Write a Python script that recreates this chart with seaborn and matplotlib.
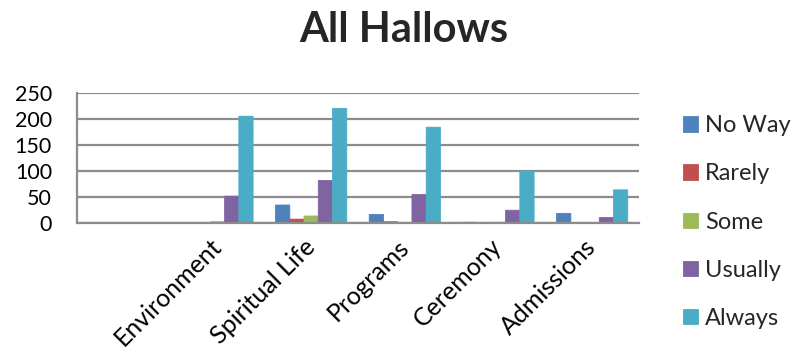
import matplotlib
matplotlib.use("Agg")
import matplotlib.pyplot as plt
import seaborn as sns
import pandas as pd
from matplotlib.ticker import FixedLocator

# Survey responses per area (first slot is an unlabeled, empty category)
categories = ["", "Environment", "Spiritual Life", "Programs", "Ceremony", "Admissions"]
responses = ["No Way", "Rarely", "Some", "Usually", "Always"]
no_way = [1, 35, 17, 2, 19]
rarely = [0, 8, 3, 0, 0]
some = [3, 14, 1, 2, 1]
usually = [52, 82, 55, 25, 11]
always = [205, 220, 184, 100, 64]
colors = ["#4F81BD", "#C0504D", "#9BBB59", "#8064A2", "#4BACC6"]

rows = []
for resp, vals in zip(responses, [no_way, rarely, some, usually, always]):
    for cat, v in zip(categories[1:], vals):
        rows.append({"Area": cat, "Response": resp, "Count": v})
df = pd.DataFrame(rows)

sns.set_theme(style="white")
plt.rcParams["font.family"] = ["Lato", "DejaVu Sans"]

fig = plt.figure(figsize=(7.91, 3.55), dpi=100)
ax = fig.add_axes([77 / 791, 1 - 223.3 / 355, (639 - 77) / 791, (223.3 - 92.7) / 355])

sns.barplot(data=df, x="Area", y="Count", hue="Response", order=categories,
            hue_order=responses, palette=colors, width=0.76, saturation=1,
            linewidth=0, ax=ax, legend=True)

# Bars in a group sit flush against each other
for p in ax.patches:
    p.set_snap(False)
    p.set_edgecolor(p.get_facecolor())
    p.set_linewidth(0.6)

ax.set_xlim(-0.5, len(categories) - 0.5)
ax.set_ylim(0, 250)
ax.set_yticks([0, 50, 100, 150, 200, 250])
ax.yaxis.grid(True, color="#8c8c8c", linewidth=1.6)
ax.set_axisbelow(True)
for side in ["top", "right"]:
    ax.spines[side].set_visible(False)
for side in ["left", "bottom"]:
    ax.spines[side].set_color("#8c8c8c")
    ax.spines[side].set_linewidth(1.6)

ax.set_xlabel("")
ax.set_ylabel("")
ax.tick_params(axis="y", labelsize=15.5, length=0, pad=18, labelcolor="black")
ax.tick_params(axis="x", which="major", length=0, pad=14, labelsize=18, labelcolor="black")
ax.xaxis.set_minor_locator(FixedLocator([i - 0.5 for i in range(len(categories) + 1)]))
ax.tick_params(axis="x", which="minor", length=8, width=1.6, color="#8c8c8c", direction="out")
for lbl in ax.get_xticklabels():
    lbl.set_rotation(45)
    lbl.set_ha("right")
    lbl.set_va("center")
    lbl.set_rotation_mode("anchor")

handles, labels = ax.get_legend_handles_labels()
ax.get_legend().remove()
fig.legend(handles, labels, loc="center left", bbox_to_anchor=(683 / 791, 1 - 222 / 355),
           frameon=False, fontsize=17, handlelength=0.62, handleheight=0.62,
           handletextpad=0.3, labelspacing=1.15, borderpad=0, borderaxespad=0)

fig.text(404 / 791, 1 - 30 / 355, "All Hallows", ha="center", va="center",
         fontsize=30, fontweight="bold")

fig.savefig("out.png", dpi=100)
